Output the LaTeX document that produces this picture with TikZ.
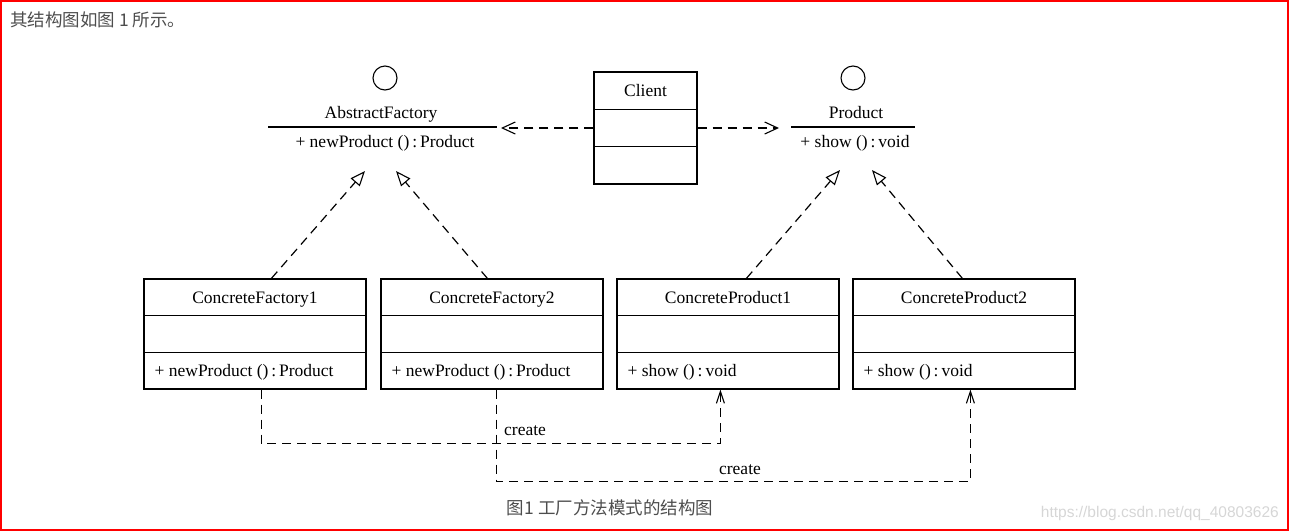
\documentclass[tikz,border=0pt]{standalone}
\usepackage{fontspec}
\setmainfont{Liberation Serif}
\newfontfamily\cjk{Noto Sans CJK SC}
\newfontfamily\wmfont{Liberation Sans}
\usetikzlibrary{arrows.meta,calc}
\definecolor{webgray}{HTML}{4D4D4D}
\definecolor{wmgray}{HTML}{D6D6D6}
\begin{document}
\begin{tikzpicture}[x=1pt,y=-1pt,
  uml/.style={font=\fontsize{17.5}{20}\selectfont},
  clsbox/.style={draw, line width=1.2pt, minimum width=222, minimum height=110, inner sep=0pt},
  clientbox/.style={draw, line width=1.2pt, minimum width=103, minimum height=112, inner sep=0pt},
  lolly/.style={draw, circle, line width=1.1pt, minimum size=24, inner sep=0pt},
  txt/.style={uml, inner sep=0pt, text height=12pt, text depth=4pt},
  divider/.style={line width=1.2pt},
  dashline/.style={line width=1.2pt, dash pattern=on 9pt off 6pt},
  depend/.style={dashline, -{Straight Barb[length=13pt,width=12pt,line width=1.1pt]}},
  createarr/.style={dashline, -{Straight Barb[length=12pt,width=8pt,line width=1.1pt]}},
  realize/.style={dashline, -{Triangle[open,length=15pt,width=12pt,line width=1.1pt]}},
]
\useasboundingbox (0,0) rectangle (1289,531);
\draw[red, line width=1.6pt] (0.8,0.8) rectangle (1288.2,530.2);

% header
\node[anchor=west, inner sep=0pt, text=webgray, font=\cjk\fontsize{17.5}{19}\selectfont] (hdr) at (10,20) {其结构图如图 1 所示。};

% AbstractFactory interface
\node[lolly] (afc) at (385,78) {};
\node[txt] (afname) at (381,114) {AbstractFactory};
\coordinate (afL) at (268,127);
\coordinate (afR) at (497,127);
\draw[divider] (afL) -- (afR);
\node[txt] (afm) at (385,143) {+ newProduct ()\,:\,Product};

% Product interface
\node[lolly] (pc) at (853,78) {};
\node[txt] (pname) at (856,114) {Product};
\coordinate (pL) at (791,127);
\coordinate (pR) at (915,127);
\draw[divider] (pL) -- (pR);
\node[txt] (pm) at (855,143) {+ show ()\,:\,void};

% Client
\node[clientbox] (client) at (645.5,128) {};
\draw[divider] ($(client.north west)+(0,38)$) -- ($(client.north east)+(0,38)$);
\draw[divider] ($(client.north west)+(0,75)$) -- ($(client.north east)+(0,75)$);
\node[txt] (clientname) at (645.5,92) {Client};

% concrete classes
\foreach \n/\cx/\title/\meth in {cf1/255/ConcreteFactory1/{+ newProduct ()\,:\,Product},
                                 cf2/492/ConcreteFactory2/{+ newProduct ()\,:\,Product},
                                 cp1/728/ConcreteProduct1/{+ show ()\,:\,void},
                                 cp2/964/ConcreteProduct2/{+ show ()\,:\,void}} {
  \node[clsbox] (\n) at (\cx,334) {};
  \draw[divider] ($(\n.north west)+(0,37)$) -- ($(\n.north east)+(0,37)$);
  \draw[divider] ($(\n.north west)+(0,74)$) -- ($(\n.north east)+(0,74)$);
  \node[txt] (\n-t) at (\cx,299) {\title};
  \node[txt, anchor=west] (\n-m) at ($(\n.west)+(11,38)$) {\meth};
}

% dependencies from client
\coordinate (afdep) at (501,128);
\coordinate (pdep) at (779,128);
\draw[depend] (client.west) -- (afdep);
\draw[depend] (client.east) -- (pdep);

% realization arrows
\coordinate (aftipL) at (365,171);
\coordinate (aftipR) at (396,171);
\coordinate (ptipL) at (840,170);
\coordinate (ptipR) at (872,170);
\draw[realize] ($(cf1.north west)+(128,0)$) -- (aftipL);
\draw[realize] ($(cf2.north west)+(107,0)$) -- (aftipR);
\draw[realize] ($(cp1.north west)+(130,0)$) -- (ptipL);
\draw[realize] ($(cp2.north west)+(110,0)$) -- (ptipR);

% create arrows
\coordinate (c1s) at ($(cf1.south west)+(118,0)$);
\coordinate (c1e) at ($(cp1.south west)+(104,0)$);
\coordinate (c2s) at ($(cf2.south west)+(116,0)$);
\coordinate (c2e) at ($(cp2.south west)+(118,0)$);
\draw[createarr] (c1s) -- ++(0,54) -| (c1e);
\draw[createarr] (c2s) -- ++(0,92) -| (c2e);
\node[txt, anchor=west] (create1) at (504,431) {create};
\node[txt] (create2) at (740,470) {create};

% caption
\node[inner sep=0pt, text=webgray, font=\cjk\fontsize{17.5}{19}\selectfont] (cap) at (610,508) {图1 工厂方法模式的结构图};

% watermark
\node[anchor=east, inner sep=0pt, text=wmgray, font=\wmfont\fontsize{15.5}{17}\selectfont] (wm) at (1279,513) {https://blog.csdn.net/qq\_40803626};
\end{tikzpicture}
\end{document}
